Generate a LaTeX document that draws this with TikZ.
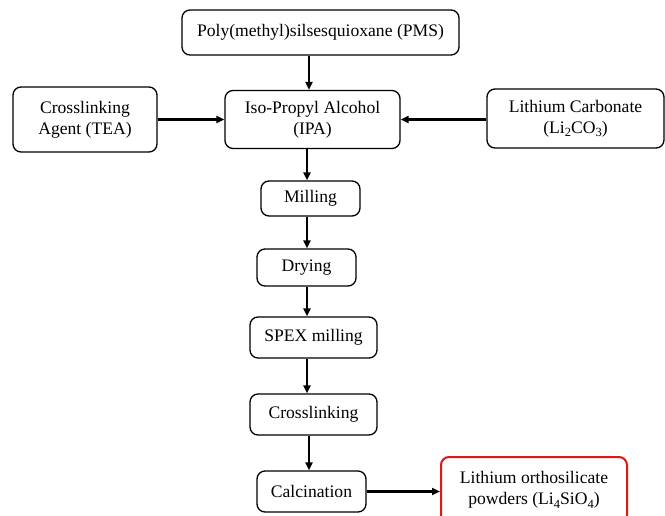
\documentclass[tikz,border=0pt]{standalone}
\usepackage{fontspec}
\setmainfont{Liberation Serif}
\usetikzlibrary{arrows.meta}
\definecolor{boxred}{RGB}{222,24,24}
\newcommand{\chemsub}[1]{\raisebox{-0.45ex}{\fontsize{12.5}{12.5}\selectfont #1}}
\begin{document}
\begin{tikzpicture}[x=1pt,y=-1pt,
  box/.style={draw=black,line width=1.3pt,rounded corners=8pt,align=center,inner sep=0pt,font=\fontsize{17.6}{21}\selectfont},
  arr/.style={line width=2.2pt,-{Triangle[length=8pt,width=7pt]}}]
\useasboundingbox (0,0) rectangle (665,515);
\clip (0,0) rectangle (665,515);
\node[box,minimum width=277pt,minimum height=45pt] (pms) at (320.5,32.5) {Poly(methyl)silsesquioxane (PMS)};
\node[box,minimum width=175pt,minimum height=58pt] (ipa) at (312.5,119.5) {Iso-Propyl Alcohol\\(IPA)};
\node[box,minimum width=144pt,minimum height=65pt] (tea) at (85,119.5) {Crosslinking\\Agent (TEA)};
\node[box,minimum width=177pt,minimum height=59pt] (li) at (575.5,118.5) {Lithium Carbonate\\(Li\chemsub{2}CO\chemsub{3})};
\node[box,minimum width=99pt,minimum height=35pt] (mill) at (310.5,198.5) {Milling};
\node[box,minimum width=99pt,minimum height=37pt] (dry) at (306.5,267.5) {Drying};
\node[box,minimum width=127pt,minimum height=41pt] (spex) at (313.5,337.5) {SPEX milling};
\node[box,minimum width=127pt,minimum height=41pt] (cross) at (313.5,414.5) {Crosslinking};
\node[box,minimum width=109pt,minimum height=41pt] (calc) at (311.5,491.5) {Calcination};
\node[box,draw=boxred,line width=2pt,minimum width=186pt,minimum height=66pt] (lith) at (534,490) {Lithium orthosilicate\\powders (Li\chemsub{4}SiO\chemsub{4})};
\coordinate (c1) at (309,0);
\coordinate (c2) at (307,0);
\draw[arr] (pms.south -| c1) -- (ipa.north -| c1);
\draw[arr] (tea.east |- ipa.west) -- (ipa.west);
\draw[arr] (li.west |- ipa.east) -- (ipa.east);
\draw[arr] (ipa.south -| c2) -- (mill.north -| c2);
\draw[arr] (mill.south -| c2) -- (dry.north -| c2);
\draw[arr] (dry.south -| c2) -- (spex.north -| c2);
\draw[arr] (spex.south -| c2) -- (cross.north -| c2);
\draw[arr] (cross.south -| c1) -- (calc.north -| c1);
\draw[arr] (calc.east) -- (lith.west |- calc.east);
\end{tikzpicture}
\end{document}
